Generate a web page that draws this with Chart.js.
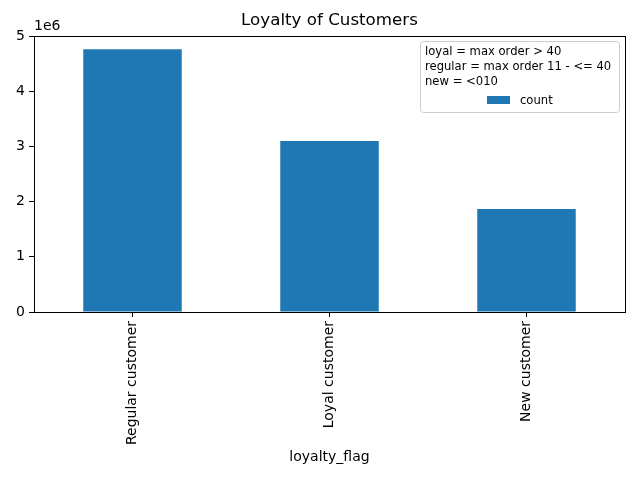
<!DOCTYPE html>
<html>
<head>
<meta charset="utf-8">
<script src="https://cdn.jsdelivr.net/npm/chart.js@4"></script>
<style>
html,body{margin:0;padding:0;background:#fff;}
canvas{display:block;}
</style>
</head>
<body>
<canvas id="c" width="640" height="480"></canvas>
<script>
const categories = ["Regular customer", "Loyal customer", "New customer"];
const counts = [4760000, 3098000, 1868000];
const yTicks = [0, 1, 2, 3, 4, 5];
const chartTitle = "Loyalty of Customers";
const xTitle = "loyalty_flag";
const legendNote = ["loyal = max order > 40", "regular = max order 11 - <= 40", "new = <010"];
const seriesName = "count";
const barColor = "#1f77b4";

Chart.defaults.font.family = "'DejaVu Sans', sans-serif";
Chart.defaults.font.size = 14;
Chart.defaults.color = "#000";

const decor = {
  id: "decor",
  afterDraw(chart) {
    const ctx = chart.ctx;
    const a = chart.chartArea;
    ctx.save();
    // frame
    ctx.strokeStyle = "#000";
    ctx.lineWidth = 1;
    ctx.strokeRect(Math.round(a.left) + 0.5, Math.round(a.top) + 0.5, Math.round(a.right - a.left), Math.round(a.bottom - a.top));
    // title
    ctx.fillStyle = "#000";
    ctx.font = "16.7px 'DejaVu Sans', sans-serif";
    ctx.textAlign = "center";
    ctx.textBaseline = "middle";
    ctx.fillText(chartTitle, (a.left + a.right) / 2, 21);
    // offset text
    ctx.font = "14px 'DejaVu Sans', sans-serif";
    ctx.textAlign = "left";
    ctx.fillText("1e6", a.left, 26);
    // legend
    const bx = 420.5, by = 41.5, bw = 199, bh = 71, r = 3;
    ctx.beginPath();
    ctx.moveTo(bx + r, by);
    ctx.lineTo(bx + bw - r, by);
    ctx.quadraticCurveTo(bx + bw, by, bx + bw, by + r);
    ctx.lineTo(bx + bw, by + bh - r);
    ctx.quadraticCurveTo(bx + bw, by + bh, bx + bw - r, by + bh);
    ctx.lineTo(bx + r, by + bh);
    ctx.quadraticCurveTo(bx, by + bh, bx, by + bh - r);
    ctx.lineTo(bx, by + r);
    ctx.quadraticCurveTo(bx, by, bx + r, by);
    ctx.closePath();
    ctx.fillStyle = "rgba(255,255,255,0.8)";
    ctx.fill();
    ctx.strokeStyle = "#cccccc";
    ctx.stroke();
    ctx.fillStyle = "#000";
    ctx.font = "11.6px 'DejaVu Sans', sans-serif";
    ctx.textAlign = "left";
    ctx.textBaseline = "middle";
    legendNote.forEach((t, i) => ctx.fillText(t, 425, 51.5 + i * 15.2));
    ctx.fillStyle = barColor;
    ctx.fillRect(487, 96, 23, 8);
    ctx.fillStyle = "#000";
    ctx.fillText(seriesName, 520, 100.5);
    ctx.restore();
  }
};

new Chart(document.getElementById("c"), {
  type: "bar",
  data: {
    labels: categories,
    datasets: [{
      label: seriesName,
      data: counts,
      backgroundColor: barColor,
      borderWidth: 0,
      categoryPercentage: 1.0,
      barPercentage: 0.5
    }]
  },
  options: {
    responsive: false,
    animation: false,
    layout: { padding: { top: 36, right: 15, left: 0, bottom: 0 } },
    plugins: {
      legend: { display: false },
      title: { display: false },
      tooltip: { enabled: false }
    },
    scales: {
      x: {
        offset: true,
        grid: { display: true, drawOnChartArea: false, tickLength: 5, color: "#000", offset: false },
        border: { color: "#000", width: 1 },
        ticks: { maxRotation: 90, minRotation: 90, padding: 4, font: { size: 14 } },
        title: { display: true, text: xTitle, font: { size: 14 }, padding: { top: 0, bottom: 14 } },
        afterFit(s) { s.height = 168; }
      },
      y: {
        min: 0,
        max: 5000000,
        grid: { display: true, drawOnChartArea: false, tickLength: 5, color: "#000" },
        border: { color: "#000", width: 1 },
        ticks: {
          stepSize: 1000000,
          padding: 4,
          font: { size: 14 },
          callback: (v) => { const t = v / 1000000; return yTicks.includes(t) ? String(t) : ""; }
        },
        afterFit(s) { s.width = 34; }
      }
    }
  },
  plugins: [decor]
});
</script>
</body>
</html>
